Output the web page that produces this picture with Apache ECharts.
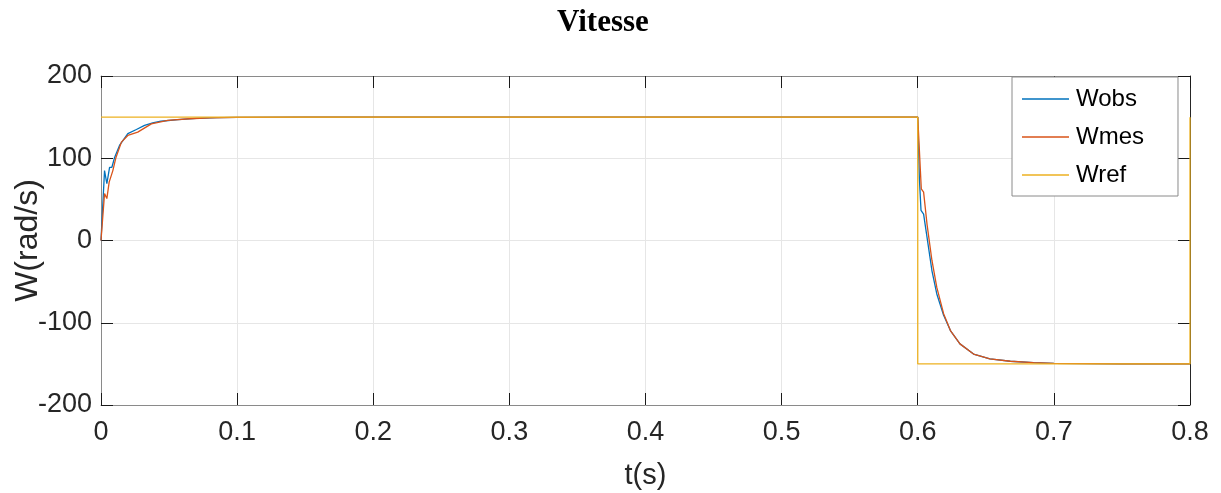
<!DOCTYPE html>
<html>
<head>
<meta charset="utf-8">
<script src="https://cdn.jsdelivr.net/npm/echarts@6/dist/echarts.min.js"></script>
<style>html,body{margin:0;padding:0;background:#fff}#c{width:1221px;height:493px}</style>
</head>
<body>
<div id="c"></div>
<script>
// ---- data ----
var xTicks = [0, 0.1, 0.2, 0.3, 0.4, 0.5, 0.6, 0.7, 0.8];
var yTicks = [-200, -100, 0, 100, 200];

var wobsT = [0, 0.0026, 0.0043, 0.0063, 0.008, 0.01, 0.0136, 0.0197, 0.026, 0.032, 0.038, 0.044, 0.0565, 0.07, 0.085, 0.1, 0.15, 0.6,
             0.6012, 0.6024, 0.6043, 0.6068, 0.6104, 0.614, 0.619, 0.624, 0.631, 0.641, 0.653, 0.668, 0.685, 0.7, 0.75, 0.8];
var wobsV = [0, 85, 69, 89, 89, 101, 115.6, 130, 135, 140, 143, 145, 147, 148.5, 149.3, 149.7, 150, 150,
             75, 36.5, 32, 4, -36.5, -65, -91, -109.5, -125.7, -138, -144, -146.8, -148.5, -149.3, -150, -150];

var wmesT = [0, 0.0026, 0.0043, 0.006, 0.0087, 0.011, 0.015, 0.0197, 0.027, 0.037, 0.049, 0.065, 0.08, 0.1, 0.15, 0.6,
             0.6005, 0.6026, 0.6043, 0.6068, 0.6104, 0.614, 0.619, 0.624, 0.631, 0.641, 0.653, 0.668, 0.685, 0.7, 0.75, 0.8];
var wmesV = [0, 57, 51, 71, 85, 101, 119.6, 127.7, 131.7, 141.8, 146, 148, 149, 149.7, 150, 150,
             148, 62.9, 58.8, 20, -24, -57, -89, -109.5, -125.7, -138, -144, -146.8, -148.5, -149.3, -150, -150];

var wrefT = [0, 0.6, 0.6, 0.8, 0.8];
var wrefV = [150, 150, -150, -150, 150];

function pairs(t, v) { return t.map(function (x, i) { return [x, v[i]]; }); }

var FONT = 'Liberation Sans';
var chart = echarts.init(document.getElementById('c'), null, { renderer: 'canvas' });
var tickStyle = { show: true, inside: true, length: 12, lineStyle: { color: '#1a1a1a', width: 1 } };

chart.setOption({
  animation: false,
  backgroundColor: '#ffffff',
  title: {
    text: 'Vitesse',
    left: 552, top: 2,
    textStyle: { fontFamily: 'Liberation Serif', fontWeight: 'bold', fontSize: 31, color: '#000' }
  },
  grid: { left: 101, right: 31, top: 76, bottom: 88, containLabel: false, outerBoundsMode: 'none' },
  legend: {
    orient: 'vertical',
    left: 1012, top: 77,
    data: ['Wobs', 'Wmes', 'Wref'],
    icon: 'rect',
    itemWidth: 47, itemHeight: 1.5,
    itemGap: 12,
    padding: [9, 34, 8, 10],
    borderColor: '#8a8a8a', borderWidth: 1,
    backgroundColor: '#ffffff',
    textStyle: { fontFamily: FONT, fontSize: 24, lineHeight: 26, color: '#000', padding: [0, 0, 0, 2] }
  },
  xAxis: [{
    type: 'value', min: 0, max: 0.8, interval: 0.1,
    position: 'bottom',
    name: 't(s)', nameLocation: 'middle', nameGap: 56, nameMoveOverlap: false,
    nameTextStyle: { fontFamily: FONT, fontSize: 29, color: '#262626' },
    axisLine: { show: true, onZero: false, lineStyle: { color: '#8a8a8a', width: 1 } },
    axisTick: tickStyle,
    axisLabel: { fontFamily: FONT, fontSize: 27, color: '#262626', margin: 14,
      formatter: function (v) { return v === 0 ? '0' : v.toFixed(1); } },
    splitLine: { show: true, lineStyle: { color: '#e6e6e6', width: 1 } }
  }, {
    type: 'value', min: 0, max: 0.8, interval: 0.1,
    position: 'top',
    axisLine: { show: true, onZero: false, lineStyle: { color: '#8a8a8a', width: 1 } },
    axisTick: tickStyle,
    axisLabel: { show: false },
    splitLine: { show: false }
  }],
  yAxis: [{
    type: 'value', min: -200, max: 200, interval: 100,
    position: 'left',
    name: 'W(rad/s)', nameLocation: 'middle', nameGap: 73, nameMoveOverlap: false,
    nameTextStyle: { fontFamily: FONT, fontSize: 32, color: '#262626', verticalAlign: 'middle' },
    axisLine: { show: true, onZero: false, lineStyle: { color: '#8a8a8a', width: 1 } },
    axisTick: tickStyle,
    axisLabel: { fontFamily: FONT, fontSize: 27, color: '#262626', margin: 9 },
    splitLine: { show: true, lineStyle: { color: '#e6e6e6', width: 1 } }
  }, {
    type: 'value', min: -200, max: 200, interval: 100,
    position: 'right',
    axisLine: { show: true, onZero: false, lineStyle: { color: '#262626', width: 1 } },
    axisTick: tickStyle,
    axisLabel: { show: false },
    splitLine: { show: false }
  }],
  series: [{
    name: 'Wobs', type: 'line', data: pairs(wobsT, wobsV),
    showSymbol: false, symbol: 'none',
    lineStyle: { color: '#0072BD', width: 1.3 }, itemStyle: { color: '#0072BD' }
  }, {
    name: 'Wmes', type: 'line', data: pairs(wmesT, wmesV),
    showSymbol: false, symbol: 'none',
    lineStyle: { color: '#D95319', width: 1.3 }, itemStyle: { color: '#D95319' }
  }, {
    name: 'Wref', type: 'line', data: pairs(wrefT, wrefV),
    showSymbol: false, symbol: 'none',
    lineStyle: { color: '#EDB120', width: 1.3 }, itemStyle: { color: '#EDB120' }
  }]
});
</script>
</body>
</html>
